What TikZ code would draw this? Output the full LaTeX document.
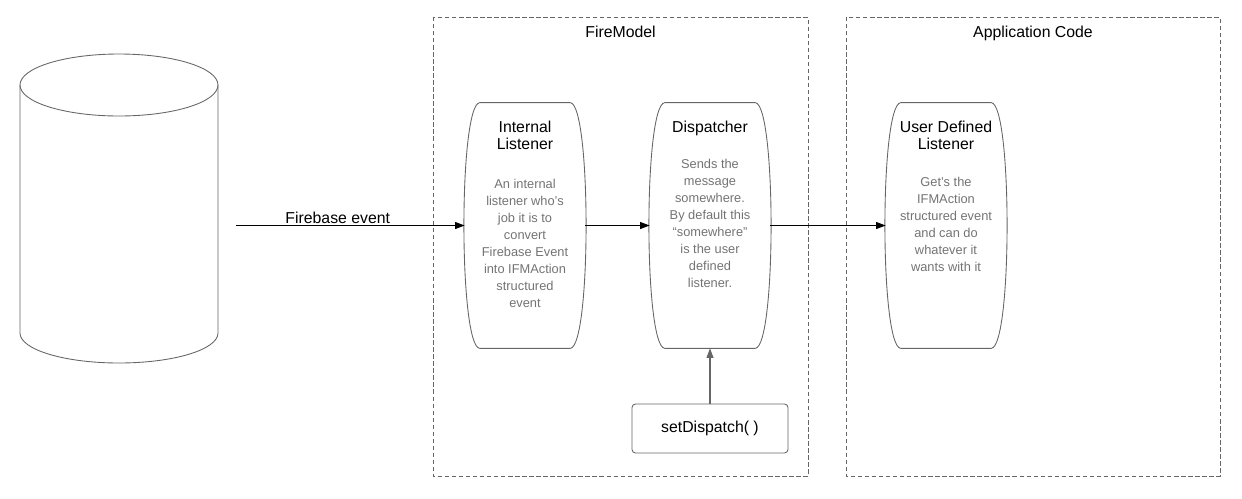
\documentclass[tikz,border=0pt]{standalone}
\usepackage{fontspec}
\setmainfont{Liberation Sans}
\usetikzlibrary{positioning,calc,arrows.meta}

\begin{document}
\begin{tikzpicture}[x=0.02cm, y=-0.02cm,
        lane/.style={minimum width=2.4cm, minimum height=4.9cm, inner sep=0pt},
        laneline/.style={draw=black!60, line width=0.5pt},
        lanetitle/.style={font=\fontsize{9}{10.2}\selectfont, align=center, inner sep=0pt},
        lanebody/.style={font=\fontsize{7.3}{9.7}\selectfont, text=black!55, align=center, inner sep=0pt},
        grouplbl/.style={font=\fontsize{9}{11}\selectfont, anchor=base, inner sep=0pt},
        flow/.style={-{Triangle[length=5.5pt,width=4pt]}, line width=0.6pt},
        group/.style={draw=black!60, line width=0.5pt, dash pattern=on 2.5pt off 1.5pt}]
        \useasboundingbox (0,0) rectangle (1242,498);

        \begin{scope}
            \draw[group] (433, 17) rectangle (808, 476);
            \draw[group] (846, 17) rectangle (1220, 476);
            \node[grouplbl] (fmLbl) at (620.5, 37.5) {FireModel};
            \node[grouplbl] (appLbl) at (1033, 37.5) {Application Code};
        \end{scope}

        \draw[laneline] (119, 85) ellipse [x radius=99, y radius=31];
        \draw[laneline] (20, 85) -- (20, 333) arc[start angle=180, end angle=0, x radius=99, y radius=30] -- (218, 85);

        \node[lane] (intl) at (525, 225.5) {};
        \node[lane] (disp) at (710, 225.5) {};
        \node[lane] (user) at (946, 225.5) {};
        \foreach \n in {intl, disp, user}
            \draw[laneline] ($(\n.north west)+(15,0)$) -- ($(\n.north east)+(-15,0)$)
                .. controls ($(\n.north east)+(6,2)$) and ($(\n.south east)+(6,-2)$) .. ($(\n.south east)+(-15,0)$)
                -- ($(\n.south west)+(15,0)$)
                .. controls ($(\n.south west)+(-6,-2)$) and ($(\n.north west)+(-6,2)$) .. cycle;

        \node[lanetitle, below=10pt of intl.north] (intlT) {Internal\\Listener};
        \node[lanebody, below=16pt of intlT] (intlB) {An internal\\listener who's\\job it is to\\convert\\Firebase Event\\into IFMAction\\structured\\event};
        \node[lanetitle, below=10pt of disp.north] (dispT) {Dispatcher};
        \node[lanebody, below=13pt of dispT] (dispB) {Sends the\\message\\somewhere.\\By default this\\“somewhere”\\is the user\\defined\\listener.};
        \node[lanetitle, below=10pt of user.north] (userT) {User Defined\\Listener};
        \node[lanebody, below=15pt of userT] (userB) {Get's the\\IFMAction\\structured event\\and can do\\whatever it\\wants with it};

        \node[laneline, rounded corners=2pt, minimum width=3.12cm, minimum height=0.98cm,
            font=\fontsize{9}{11}\selectfont] (setd) at (710, 428.5) {setDispatch( )};

        \coordinate (fbsrc) at (236, 225.5);
        \draw[flow] (fbsrc) -- node[above=1pt, pos=0.445, font=\fontsize{9}{11}\selectfont, inner sep=0pt] (fbLbl) {Firebase event} (intl);
        \draw[flow] (intl) -- (disp);
        \draw[flow] (disp) -- (user);
        \draw[flow, black!60] (setd) -- (disp);

    \end{tikzpicture}
\end{document}
